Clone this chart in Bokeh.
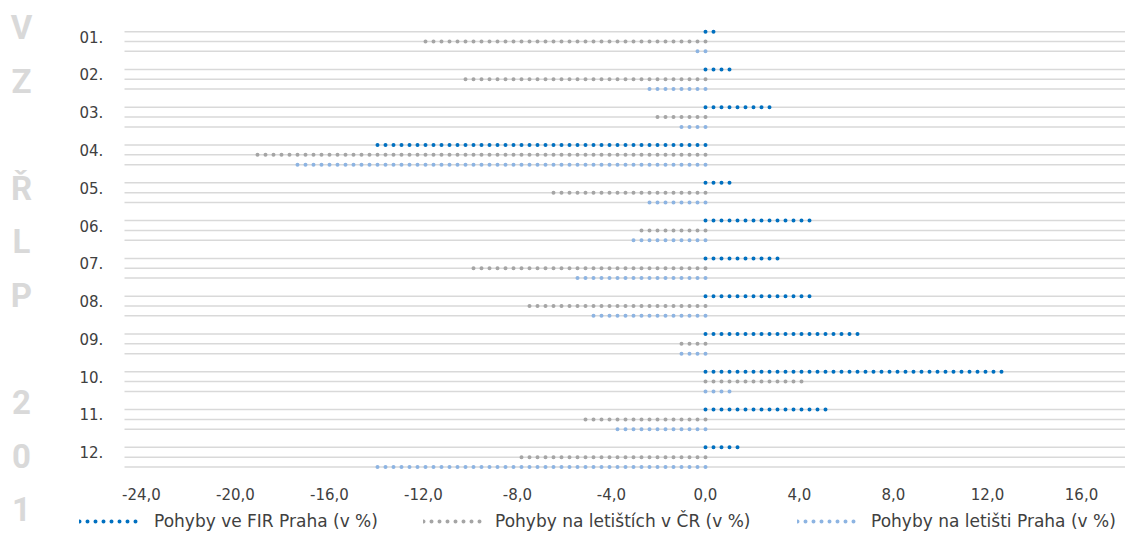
from bokeh.plotting import figure
from bokeh.models import Range1d, LinearAxis, FixedTicker, Legend, LegendItem
from bokeh.core.properties import value
from bokeh.embed import file_html
from bokeh.resources import INLINE

# ---------------- data ----------------
months = ["01.", "02.", "03.", "04.", "05.", "06.", "07.", "08.", "09.", "10.", "11.", "12."]
fir_praha = [0.46, 1.18, 2.75, -13.97, 1.06, 4.68, 3.19, 4.68, 6.47, 12.69, 5.15, 1.50]
letiste_cr = [-12.06, -10.31, -2.30, -19.18, -6.60, -2.87, -10.04, -7.80, -1.06, 4.20, -5.25, -8.04]
letiste_praha = [-0.50, -2.51, -1.35, -17.59, -2.65, -3.19, -5.77, -5.03, -1.18, 1.18, -4.07, -13.97]
series_names = ["Pohyby ve FIR Praha (v %)", "Pohyby na letištích v ČR (v %)", "Pohyby na letišti Praha (v %)"]
tick_values = [-24, -20, -16, -12, -8, -4, 0, 4, 8, 12, 16]
tick_labels = ["-24,0", "-20,0", "-16,0", "-12,0", "-8,0", "-4,0", "0,0", "4,0", "8,0", "12,0", "16,0"]
side_letters = ["V", "Z", "", "Ř", "L", "P", "", "2", "0", "1"]

# ---------------- styles ----------------
colors = ["#0070C0", "#A5A5A5", "#8DB4E2"]
FONT = "DejaVu Sans"
TXT = "#404040"
W, H = 1125, 532
ZERO_PX = 705.0      # canvas x of value 0
PX_PER_UNIT = 23.5
ROW0_PX = 41.0       # canvas y of the centre of month 01
SLOT_PX = 37.79
OFFSET = 0.26        # bar offset inside a month slot

def xd(px):
    return (px - ZERO_PX) / PX_PER_UNIT

def yd(py):
    return (py - ROW0_PX) / SLOT_PX

p = figure(width=W, height=H,
           x_range=Range1d(xd(0), xd(W)),
           y_range=Range1d(yd(H), yd(0)),
           x_axis_type=None, y_axis_type=None,
           toolbar_location=None, output_backend="svg",
           min_border=0)
p.outline_line_color = None
p.background_fill_color = "white"
p.border_fill_color = "white"

n = len(months)
series = [fir_praha, letiste_cr, letiste_praha]

# light grey guide lines under every bar row
gy = []
for i in range(n):
    for s in range(3):
        gy.append(i + (s - 1) * OFFSET)
p.segment(x0=[xd(124)] * len(gy), y0=gy, x1=[xd(W)] * len(gy), y1=gy,
          line_color="#D9D9D9", line_width=1.5)

# dotted bars
renderers = []
for s, vals in enumerate(series):
    ys = [i + (s - 1) * OFFSET for i in range(n)]
    r = p.segment(x0=[0] * n, y0=ys, x1=vals, y1=ys,
                  line_color=colors[s], line_width=4,
                  line_dash="0 8", line_cap="round")
    renderers.append(r)

# month labels
p.text(x=[xd(79)] * n, y=[i - 0.13 for i in range(n)], text=months,
       text_font=value(FONT), text_font_size="15px", text_color=TXT,
       text_align="left", text_baseline="middle")

# vertical side letters
ly = [yd(27 + 53.5 * k) for k in range(len(side_letters))]
p.text(x=[xd(21)] * len(side_letters), y=ly, text=side_letters,
       text_font=value("Roboto"), text_font_style="bold", text_font_size="33px",
       text_color="#D9D9D9", text_align="center", text_baseline="middle")

# x axis
ax = LinearAxis(fixed_location=yd(480),
                ticker=FixedTicker(ticks=tick_values),
                major_label_overrides={t: l for t, l in zip(tick_values, tick_labels)})
ax.axis_line_color = None
ax.major_tick_line_color = None
ax.minor_tick_line_color = None
ax.major_tick_out = 0
ax.major_tick_in = 0
ax.major_label_standoff = 7
ax.major_label_text_font = FONT
ax.major_label_text_font_size = "15px"
ax.major_label_text_color = TXT
p.add_layout(ax, "below")

# legends (one per series)
leg_x = [79, 423, 797]
leg_standoff = [11, 8, 10]
for s in range(3):
    leg = Legend(items=[LegendItem(label=series_names[s], renderers=[renderers[s]])],
                 location=(leg_x[s], 1), orientation="horizontal",
                 padding=0, margin=0, spacing=0,
                 glyph_width=64, glyph_height=16, label_standoff=leg_standoff[s],
                 border_line_alpha=0, background_fill_alpha=0,
                 label_text_font=FONT, label_text_font_size="17px",
                 label_text_color=TXT)
    p.add_layout(leg)

open("out.html", "w").write(file_html(p, INLINE))
